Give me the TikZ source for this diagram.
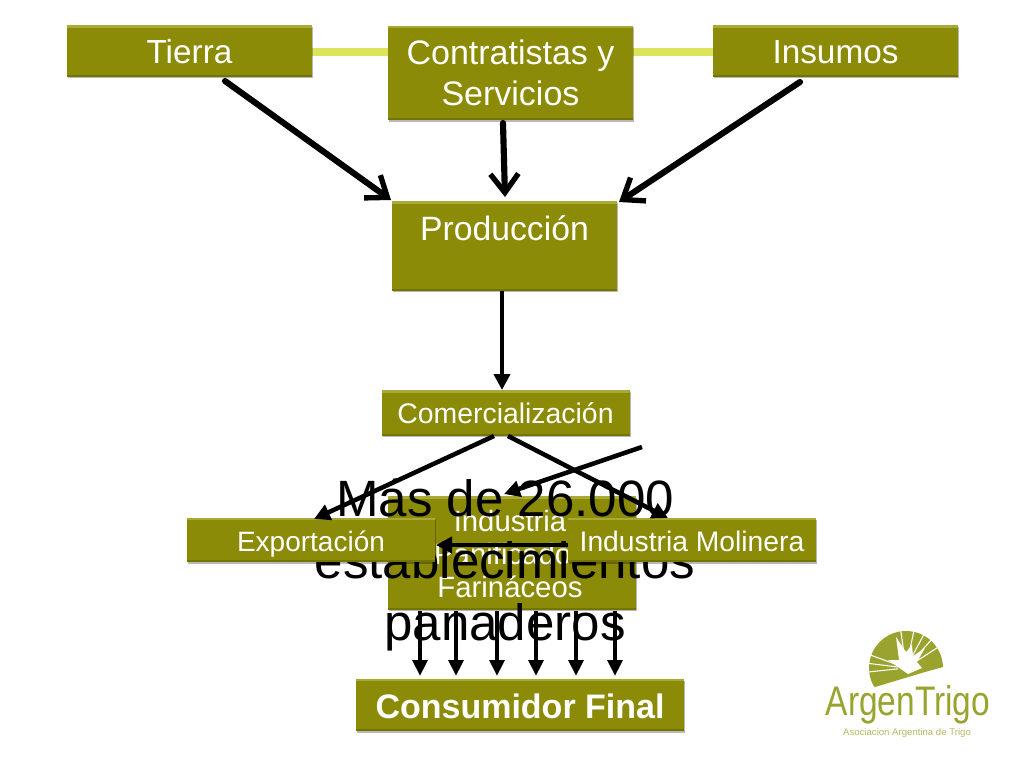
\documentclass[tikz,border=0pt]{standalone}
\usepackage{fontspec}
\setmainfont{Liberation Sans}
\usetikzlibrary{arrows.meta,shadows}
\definecolor{oliv}{HTML}{8B8B07}
\definecolor{olivlight}{HTML}{A9A936}
\definecolor{olivdark}{HTML}{747405}
\definecolor{linkgreen}{HTML}{DCE45C}
\definecolor{logo}{HTML}{9AA32E}
\newcommand\vfixa{\rule[-.25em]{0pt}{1.22em}}
\newcommand\vfixb{\rule[-.25em]{0pt}{1.3em}}
\tikzset{
  x=0.75pt,y=-0.75pt,
  box/.style={fill=oliv,text=white,align=center,inner sep=0pt,
    drop shadow={shadow xshift=.8pt,shadow yshift=-1.2pt,opacity=.28,fill=black},
    path picture={
      \fill[olivlight] (path picture bounding box.north west) rectangle ([yshift=-1.8pt]path picture bounding box.north east);
      \fill[olivdark] ([yshift=1.5pt]path picture bounding box.south west) rectangle (path picture bounding box.south east);
    }},
  thickarrow/.style={line width=4.6pt,-{Straight Barb[length=14pt,width=21pt,line width=4pt]},line cap=round},
  midarrow/.style={line width=3pt,-{Triangle[length=12pt,width=12pt]}},
  slimarrow/.style={line width=3.4pt,-{Triangle[length=12pt,width=12pt]}},
  consarrow/.style={line width=2.8pt,-{Triangle[length=12pt,width=11pt]}}
}
\begin{document}
\begin{tikzpicture}
\useasboundingbox (0,0) rectangle (1024,768);
\fill[white] (0,0) rectangle (1024,768);
% top links
\coordinate (l1) at (300,52);
\coordinate (l2) at (400,52);
\coordinate (l3) at (620,52);
\coordinate (l4) at (725,52);
\draw[linkgreen,line width=6pt] (l1) -- (l2);
\draw[linkgreen,line width=6pt] (l3) -- (l4);
% nodes
\node[box,minimum width=184pt,minimum height=38.5pt,font=\fontsize{25}{30}\selectfont] (tierra) at (189.5,51) {\vfixa Tierra};
\node[box,minimum width=184pt,minimum height=71pt,font=\fontsize{25.5}{30.8}\selectfont] (contr) at (510.5,73) {Contratistas y\\Servicios};
\node[box,minimum width=184pt,minimum height=38.5pt,font=\fontsize{25}{30}\selectfont] (insumos) at (835.5,51) {\vfixa Insumos};
\node[box,minimum width=169pt,minimum height=67pt] (prod) at (504.5,246) {};
\node[text=white,font=\fontsize{25.3}{30}\selectfont,inner sep=0pt] (prodt) at (504.5,228) {\vfixa Producción};
\node[box,minimum width=186pt,minimum height=34pt,font=\fontsize{21.3}{26}\selectfont] (com) at (505.5,413) {\vfixa Comercialización};
\node[box,minimum width=186pt,minimum height=85pt] (ind) at (512,553) {};
\node[text=white,align=center,inner sep=0pt,font=\fontsize{22}{25}\selectfont] (indt) at (510,554) {Industria\\Panificados\\Farináceos};
\node[align=center,font=\fontsize{38.3}{46.5}\selectfont,text=black,inner sep=0pt] (big) at (505,565) {Más de 26.000\\establecimientos\\panaderos};
\node[box,minimum width=186pt,minimum height=33pt,font=\fontsize{21}{25}\selectfont] (exp) at (311,540) {\vfixb Exportación};
\node[box,minimum width=186pt,minimum height=33pt,font=\fontsize{21.2}{25}\selectfont] (mol) at (692,540) {\vfixb Industria Molinera};
\node[box,minimum width=246pt,minimum height=39pt,font=\bfseries\fontsize{25.5}{30}\selectfont] (cons) at (520,705) {\vfixb Consumidor Final};
% connectors
\coordinate (t1) at (225,81); \coordinate (t2) at (391,200);
\coordinate (c1) at (503,123); \coordinate (c2) at (505,197);
\coordinate (i1) at (800,82); \coordinate (i2) at (619,202);
\draw[thickarrow] (t1) -- (t2);
\draw[thickarrow] (c1) -- (c2);
\draw[thickarrow] (i1) -- (i2);
\coordinate (p1) at (502,291); \coordinate (p2) at (502,390);
\draw[midarrow] (p1) -- (p2);
\coordinate (cm1) at (494,436); \coordinate (cm2) at (314,519);
\coordinate (cm3) at (508,436); \coordinate (cm4) at (668,518);
\coordinate (cm5) at (642,447); \coordinate (cm6) at (504,494);
\draw[slimarrow] (cm1) -- (cm2);
\draw[slimarrow] (cm3) -- (cm4);
\draw[slimarrow] (cm5) -- (cm6);
\coordinate (m1) at (568,545); \coordinate (m2) at (436,545);
\draw[slimarrow] (m1) -- (m2);
\foreach \i/\xx in {a/420,b/456,c/497,d/536,e/576,f/615}{
  \coordinate (f\i) at (\xx,611);
  \coordinate (g\i) at (\xx,676);
  \draw[consarrow] (f\i) -- (g\i);
}
% logo
\begin{scope}
\clip (875,687) -- (905,678) -- (925,672) -- (943,667) -- (950,620) -- (860,620) -- (865,680) -- cycle;
\fill[logo] (906,668) circle (37);
\end{scope}
\foreach \aa in {200,187,174}{\draw[white,line width=.8pt] (906,668)+(\aa:8) -- +(\aa:38);}
\foreach \aa in {-98,-78,-62,-48,-33}{\draw[white,line width=.8pt] (906,668)+(\aa:14) -- +(\aa:38);}
\fill[white] (908,674) -- (888,660) -- (899,660) -- (896,637) -- (906,652) -- (912,645) -- (913,656) -- (925,648) -- (917,662) -- (922,668) -- cycle;
\node[text=logo,font=\fontsize{31}{34}\selectfont,inner sep=0pt] (argen) at (908,705) {\scalebox{.81}[1]{ArgenTrigo}};
\node[text=logo!75,font=\fontsize{7.2}{9}\selectfont,inner sep=0pt] (asoc) at (907,733) {Asociacion Argentina de Trigo};
\end{tikzpicture}
\end{document}
